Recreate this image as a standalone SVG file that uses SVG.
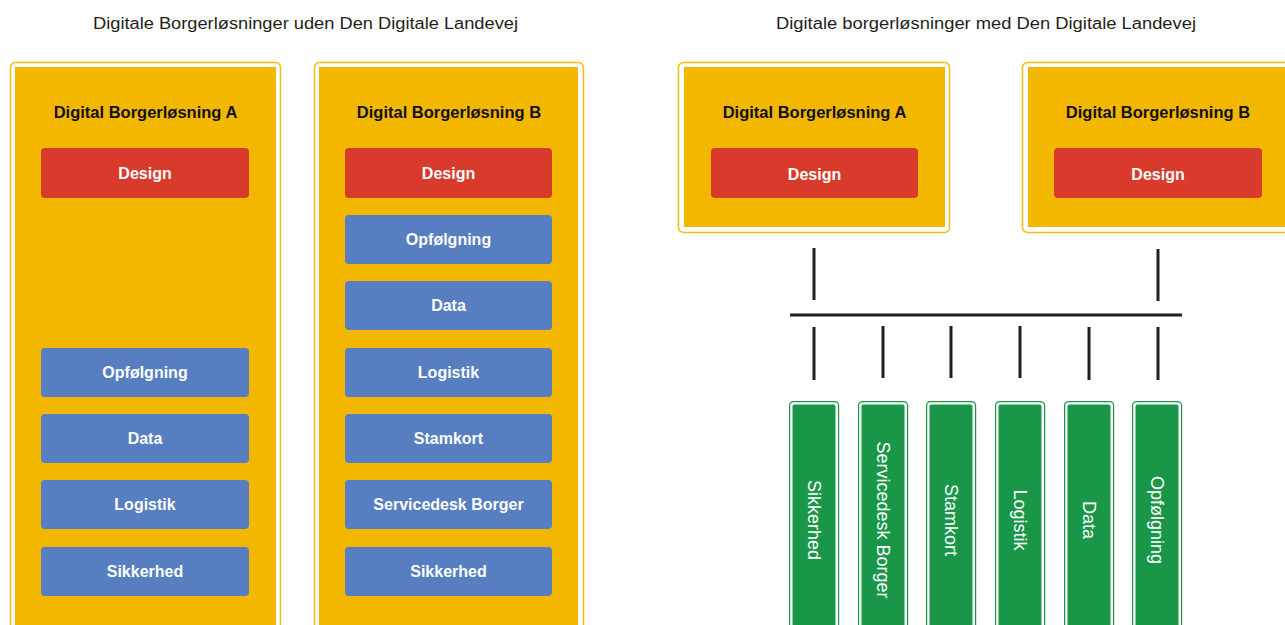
<svg xmlns="http://www.w3.org/2000/svg" width="1285" height="625" viewBox="0 0 1285 625">
<style>
.bg{fill:#ffffff}
.outer{fill:#ffffff;stroke:#F5BC12;stroke-width:1.5}
.inner{fill:#F3B700}
.ttl{font-family:"Liberation Sans",Arial,sans-serif;font-size:16px;fill:#231f20}
.hdr{font-family:"Liberation Sans",Arial,sans-serif;font-size:16.5px;font-weight:bold;fill:#111111;text-anchor:middle}
.red{fill:#D83A2C}
.blue{fill:#567EC0}
.lbl{font-family:"Liberation Sans",Arial,sans-serif;font-size:16px;font-weight:bold;fill:#ffffff;text-anchor:middle}
.gout{fill:#ffffff;stroke:#1A9649;stroke-width:1.2}
.gin{fill:#1A9649}
.vlbl{font-family:"Liberation Sans",Arial,sans-serif;font-size:18px;fill:#ffffff;text-anchor:middle}
.ln{stroke:#231f20;stroke-width:3;fill:none}
</style>
<rect class="bg" x="0" y="0" width="1285" height="625"/>
<text class="ttl" x="93" y="29" textLength="425" lengthAdjust="spacingAndGlyphs">Digitale Borgerløsninger uden Den Digitale Landevej</text>
<text class="ttl" x="776" y="29" textLength="420" lengthAdjust="spacingAndGlyphs">Digitale borgerløsninger med Den Digitale Landevej</text>

<g id="left-a">
<rect class="outer" x="10.5" y="62.5" width="270" height="600" rx="5"/>
<rect class="inner" x="15" y="67" width="261" height="600"/>
<text class="hdr" x="145.5" y="118">Digital Borgerløsning A</text>
<rect class="red" x="41" y="148" width="208" height="50" rx="4"/>
<text class="lbl" x="145" y="178.5">Design</text>
<rect class="blue" x="41" y="348" width="208" height="49" rx="4"/>
<text class="lbl" x="145" y="378">Opfølgning</text>
<rect class="blue" x="41" y="414" width="208" height="49" rx="4"/>
<text class="lbl" x="145" y="444">Data</text>
<rect class="blue" x="41" y="480" width="208" height="49" rx="4"/>
<text class="lbl" x="145" y="510">Logistik</text>
<rect class="blue" x="41" y="547" width="208" height="49" rx="4"/>
<text class="lbl" x="145" y="577">Sikkerhed</text>
</g>

<g id="left-b">
<rect class="outer" x="314.5" y="62.5" width="269" height="600" rx="5"/>
<rect class="inner" x="319" y="67" width="259" height="600"/>
<text class="hdr" x="449" y="118">Digital Borgerløsning B</text>
<rect class="red" x="345" y="148" width="207" height="50" rx="4"/>
<text class="lbl" x="448.5" y="178.5">Design</text>
<rect class="blue" x="345" y="215" width="207" height="49" rx="4"/>
<text class="lbl" x="448.5" y="245">Opfølgning</text>
<rect class="blue" x="345" y="281" width="207" height="49" rx="4"/>
<text class="lbl" x="448.5" y="311">Data</text>
<rect class="blue" x="345" y="348" width="207" height="49" rx="4"/>
<text class="lbl" x="448.5" y="378">Logistik</text>
<rect class="blue" x="345" y="414" width="207" height="49" rx="4"/>
<text class="lbl" x="448.5" y="444">Stamkort</text>
<rect class="blue" x="345" y="480" width="207" height="49" rx="4"/>
<text class="lbl" x="448.5" y="510">Servicedesk Borger</text>
<rect class="blue" x="345" y="547" width="207" height="49" rx="4"/>
<text class="lbl" x="448.5" y="577">Sikkerhed</text>
</g>

<g id="right-a">
<rect class="outer" x="678.5" y="62.5" width="271" height="170" rx="5"/>
<rect class="inner" x="684" y="67" width="261" height="160"/>
<text class="hdr" x="814.5" y="118">Digital Borgerløsning A</text>
<rect class="red" x="711" y="148" width="207" height="50" rx="4"/>
<text class="lbl" x="814.5" y="180">Design</text>
</g>

<g id="right-b">
<rect class="outer" x="1022.5" y="62.5" width="300" height="170" rx="5"/>
<rect class="inner" x="1028" y="67" width="300" height="160"/>
<text class="hdr" x="1158" y="118">Digital Borgerløsning B</text>
<rect class="red" x="1054" y="148" width="208" height="50" rx="4"/>
<text class="lbl" x="1158" y="180">Design</text>
</g>

<g id="connectors">
<line class="ln" x1="814" y1="248" x2="814" y2="300"/>
<line class="ln" x1="1158" y1="249" x2="1158" y2="301"/>
<line class="ln" x1="790" y1="315" x2="1182" y2="315"/>
<line class="ln" x1="814" y1="327" x2="814" y2="380"/>
<line class="ln" x1="883" y1="326" x2="883" y2="378"/>
<line class="ln" x1="951" y1="326" x2="951" y2="378"/>
<line class="ln" x1="1020" y1="326" x2="1020" y2="378"/>
<line class="ln" x1="1089" y1="327" x2="1089" y2="380"/>
<line class="ln" x1="1158" y1="327" x2="1158" y2="380"/>
</g>

<g id="g-sikkerhed">
<rect class="gout" x="789.6" y="401.6" width="49" height="240" rx="4"/>
<rect class="gin" x="792.5" y="404.5" width="43" height="240" rx="2"/>
<text class="vlbl" transform="translate(807.5 520) rotate(90)">Sikkerhed</text>
</g>
<g id="g-servicedesk">
<rect class="gout" x="858.6" y="401.6" width="49" height="240" rx="4"/>
<rect class="gin" x="861.5" y="404.5" width="43" height="240" rx="2"/>
<text class="vlbl" transform="translate(876.5 520) rotate(90)">Servicedesk Borger</text>
</g>
<g id="g-stamkort">
<rect class="gout" x="926.6" y="401.6" width="49" height="240" rx="4"/>
<rect class="gin" x="929.5" y="404.5" width="43" height="240" rx="2"/>
<text class="vlbl" transform="translate(944.5 520) rotate(90)">Stamkort</text>
</g>
<g id="g-logistik">
<rect class="gout" x="995.6" y="401.6" width="49" height="240" rx="4"/>
<rect class="gin" x="998.5" y="404.5" width="43" height="240" rx="2"/>
<text class="vlbl" transform="translate(1013.5 520) rotate(90)">Logistik</text>
</g>
<g id="g-data">
<rect class="gout" x="1064.6" y="401.6" width="49" height="240" rx="4"/>
<rect class="gin" x="1067.5" y="404.5" width="43" height="240" rx="2"/>
<text class="vlbl" transform="translate(1082.5 520) rotate(90)">Data</text>
</g>
<g id="g-opfoelgning">
<rect class="gout" x="1132.6" y="401.6" width="49" height="240" rx="4"/>
<rect class="gin" x="1135.5" y="404.5" width="43" height="240" rx="2"/>
<text class="vlbl" transform="translate(1150.5 520) rotate(90)">Opfølgning</text>
</g>
</svg>
